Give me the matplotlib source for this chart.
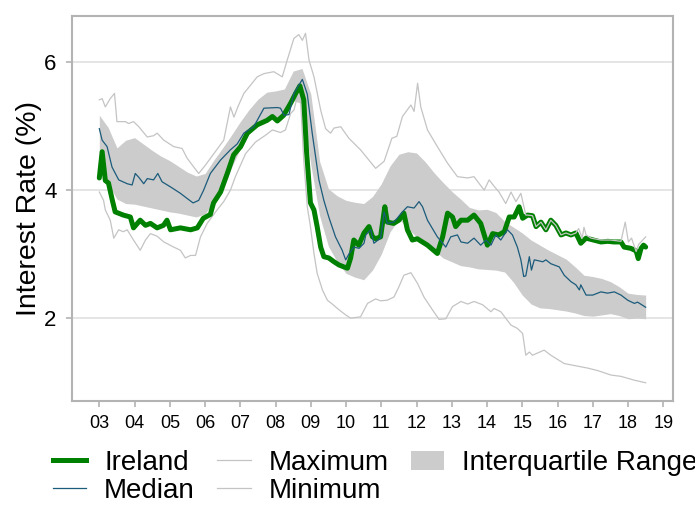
import matplotlib
matplotlib.use("Agg")
import matplotlib.pyplot as plt
from matplotlib.lines import Line2D
from matplotlib.patches import Patch

plt.rcParams["font.family"] = ["Liberation Sans", "DejaVu Sans"]

# interquartile range, quarterly from 2003.0 to 2018.5
iqr_t = [2003 + 0.25 * k for k in range(63)]
q3 = [5.17, 4.98, 4.66, 4.78, 4.82, 4.72, 4.62, 4.53, 4.46, 4.37, 4.28, 4.22,
      4.26, 4.47, 4.66, 4.86, 5.07, 5.26, 5.42, 5.53, 5.55, 5.58, 5.86, 5.90,
      5.50, 4.45, 4.02, 3.91, 3.84, 3.81, 3.79, 3.90, 4.10, 4.38, 4.56, 4.60,
      4.58, 4.44, 4.27, 4.12, 3.98, 3.86, 3.73, 3.69, 3.70, 3.65, 3.51, 3.42,
      3.33, 3.22, 3.14, 3.06, 2.99, 2.92, 2.80, 2.67, 2.65, 2.62, 2.57, 2.49,
      2.39, 2.37, 2.36]
q1 = [4.30, 4.10, 3.86, 3.79, 3.78, 3.75, 3.72, 3.69, 3.66, 3.64, 3.61, 3.58,
      3.63, 3.82, 4.00, 4.35, 4.65, 4.88, 5.04, 5.09, 5.12, 5.15, 5.40, 5.35,
      4.40, 3.60, 3.12, 2.88, 2.70, 2.64, 2.60, 2.75, 3.00, 3.35, 3.55, 3.40,
      3.27, 3.20, 3.06, 2.94, 2.88, 2.82, 2.80, 2.77, 2.76, 2.75, 2.72, 2.56,
      2.36, 2.22, 2.16, 2.15, 2.13, 2.11, 2.08, 2.04, 2.03, 2.05, 2.07, 2.04,
      1.99, 2.00, 1.99]

ireland_t = [2003.00, 2003.08, 2003.17, 2003.26, 2003.37, 2003.45, 2003.68, 2003.88,
             2003.97, 2004.16, 2004.31, 2004.45, 2004.64, 2004.82, 2004.92, 2005.02,
             2005.30, 2005.59, 2005.78, 2005.95, 2006.15, 2006.24, 2006.44, 2006.63,
             2006.81, 2007.01, 2007.20, 2007.48, 2007.76, 2007.91, 2008.05, 2008.23,
             2008.43, 2008.57, 2008.69, 2008.80, 2008.88, 2008.99, 2009.09, 2009.18,
             2009.28, 2009.37, 2009.51, 2009.66, 2009.80, 2009.94, 2010.04, 2010.13,
             2010.22, 2010.36, 2010.51, 2010.65, 2010.75, 2010.84, 2010.98, 2011.10,
             2011.17, 2011.35, 2011.50, 2011.64, 2011.74, 2011.88, 2012.02, 2012.31,
             2012.59, 2012.74, 2012.88, 2013.02, 2013.11, 2013.26, 2013.45, 2013.63,
             2013.82, 2014.01, 2014.16, 2014.33, 2014.49, 2014.63, 2014.77, 2014.91,
             2015.01, 2015.15, 2015.29, 2015.39, 2015.53, 2015.67, 2015.81, 2015.95,
             2016.10, 2016.24, 2016.38, 2016.52, 2016.66, 2016.81, 2016.95, 2017.23,
             2017.43, 2017.60, 2017.80, 2017.89, 2018.08, 2018.23, 2018.29, 2018.37,
             2018.44, 2018.50]
ireland = [4.19, 4.60, 4.15, 4.11, 3.84, 3.66, 3.61, 3.58,
           3.41, 3.53, 3.45, 3.48, 3.41, 3.45, 3.53, 3.38,
           3.41, 3.38, 3.41, 3.56, 3.62, 3.80, 3.97, 4.26,
           4.55, 4.68, 4.89, 5.02, 5.09, 5.15, 5.08, 5.17,
           5.36, 5.51, 5.63, 5.41, 4.60, 3.80, 3.69, 3.43,
           3.11, 2.96, 2.94, 2.88, 2.83, 2.80, 2.78, 2.94,
           3.22, 3.14, 3.33, 3.43, 3.27, 3.24, 3.27, 3.74,
           3.50, 3.48, 3.53, 3.64, 3.38, 3.22, 3.24, 3.14,
           3.01, 3.27, 3.64, 3.58, 3.43, 3.53, 3.53, 3.61,
           3.48, 3.14, 3.32, 3.30, 3.35, 3.58, 3.58, 3.74,
           3.56, 3.61, 3.60, 3.43, 3.50, 3.38, 3.53, 3.45,
           3.30, 3.33, 3.30, 3.33, 3.17, 3.25, 3.23, 3.19,
           3.20, 3.19, 3.19, 3.11, 3.09, 3.05, 2.93, 3.09,
           3.14, 3.11]

median_t = [2003.00, 2003.08, 2003.22, 2003.36, 2003.55, 2003.79, 2003.93, 2004.02,
            2004.12, 2004.26, 2004.36, 2004.54, 2004.66, 2004.78, 2005.02, 2005.30,
            2005.49, 2005.66, 2005.82, 2005.96, 2006.15, 2006.44, 2006.72, 2006.91,
            2007.10, 2007.38, 2007.67, 2008.05, 2008.14, 2008.24, 2008.38, 2008.52,
            2008.76, 2008.90, 2009.04, 2009.23, 2009.37, 2009.51, 2009.70, 2009.89,
            2009.99, 2010.08, 2010.22, 2010.37, 2010.51, 2010.56, 2010.70, 2010.79,
            2010.98, 2011.08, 2011.17, 2011.36, 2011.60, 2011.74, 2011.93, 2012.07,
            2012.17, 2012.31, 2012.59, 2012.83, 2012.97, 2013.16, 2013.26, 2013.45,
            2013.63, 2013.82, 2013.97, 2014.11, 2014.25, 2014.39, 2014.58, 2014.72,
            2014.86, 2014.96, 2015.04, 2015.10, 2015.20, 2015.26, 2015.34, 2015.43,
            2015.58, 2015.67, 2015.81, 2016.05, 2016.19, 2016.38, 2016.52, 2016.62,
            2016.66, 2016.81, 2017.00, 2017.23, 2017.42, 2017.61, 2017.80, 2017.99,
            2018.18, 2018.27, 2018.50]
median = [4.96, 4.78, 4.68, 4.36, 4.16, 4.10, 4.08, 4.26,
          4.20, 4.10, 4.18, 4.16, 4.26, 4.13, 4.05, 3.95,
          3.87, 3.80, 3.84, 4.00, 4.26, 4.47, 4.63, 4.72,
          4.89, 4.99, 5.28, 5.29, 5.28, 5.17, 5.18, 5.51,
          5.73, 5.50, 4.89, 4.16, 3.84, 3.58, 3.27, 3.06,
          2.91, 3.00, 3.11, 3.09, 3.17, 3.30, 3.38, 3.17,
          3.25, 3.66, 3.48, 3.50, 3.66, 3.74, 3.72, 3.82,
          3.74, 3.53, 3.27, 3.11, 3.27, 3.30, 3.19, 3.17,
          3.25, 3.14, 3.22, 3.14, 3.30, 3.22, 3.38, 3.30,
          3.11, 2.91, 2.65, 2.66, 2.96, 2.75, 2.91, 2.90,
          2.88, 2.91, 2.85, 2.80, 2.67, 2.57, 2.52, 2.44,
          2.52, 2.36, 2.36, 2.41, 2.39, 2.41, 2.36, 2.28,
          2.23, 2.25, 2.17]

maximum_t = [2003.00, 2003.08, 2003.17, 2003.31, 2003.43, 2003.50, 2003.74, 2003.83,
             2003.97, 2004.12, 2004.36, 2004.54, 2004.64, 2004.83, 2005.11, 2005.35,
             2005.49, 2005.68, 2005.82, 2006.01, 2006.25, 2006.53, 2006.72, 2006.82,
             2006.93, 2007.10, 2007.48, 2007.67, 2007.95, 2008.19, 2008.33, 2008.52,
             2008.66, 2008.76, 2008.85, 2008.95, 2009.09, 2009.28, 2009.42, 2009.56,
             2009.66, 2009.85, 2010.08, 2010.41, 2010.84, 2011.08, 2011.30, 2011.44,
             2011.60, 2011.84, 2011.93, 2012.03, 2012.12, 2012.31, 2012.59, 2012.88,
             2013.16, 2013.45, 2013.63, 2013.78, 2013.92, 2014.06, 2014.20, 2014.34,
             2014.53, 2014.68, 2014.82, 2014.96, 2015.10, 2015.15, 2015.29, 2015.39,
             2015.53, 2015.67, 2015.81, 2015.95, 2016.10, 2016.24, 2016.38, 2016.52,
             2016.60, 2016.70, 2016.75, 2016.81, 2016.95, 2017.23, 2017.50, 2017.80,
             2017.92, 2018.01, 2018.10, 2018.23, 2018.30, 2018.50]
maximum = [5.41, 5.43, 5.30, 5.43, 5.51, 5.07, 5.07, 5.04,
           5.07, 4.99, 4.83, 4.85, 4.89, 4.78, 4.68, 4.65,
           4.50, 4.36, 4.26, 4.39, 4.57, 4.78, 5.30, 5.14,
           5.30, 5.51, 5.77, 5.82, 5.85, 5.77, 6.03, 6.37,
           6.43, 6.34, 6.45, 6.03, 5.77, 5.25, 4.96, 4.89,
           4.97, 4.99, 4.81, 4.63, 4.34, 4.45, 4.81, 4.84,
           5.15, 5.33, 5.23, 5.67, 5.30, 4.94, 4.68, 4.42,
           4.21, 4.19, 4.21, 4.10, 4.00, 4.16, 4.06, 3.97,
           3.79, 3.97, 3.82, 3.95, 3.61, 3.61, 3.60, 3.43,
           3.50, 3.38, 3.53, 3.45, 3.30, 3.33, 3.30, 3.33,
           3.40, 3.25, 3.42, 3.30, 3.25, 3.22, 3.22, 3.20,
           3.50, 3.19, 3.25, 3.04, 3.15, 3.27]

minimum_t = [2003.00, 2003.12, 2003.17, 2003.31, 2003.41, 2003.55, 2003.68, 2003.79,
             2003.97, 2004.16, 2004.31, 2004.45, 2004.64, 2004.83, 2005.11, 2005.30,
             2005.44, 2005.59, 2005.73, 2005.87, 2006.06, 2006.34, 2006.53, 2006.72,
             2006.86, 2007.15, 2007.43, 2007.72, 2007.91, 2008.14, 2008.28, 2008.43,
             2008.52, 2008.62, 2008.71, 2008.80, 2008.90, 2008.99, 2009.09, 2009.18,
             2009.33, 2009.47, 2009.61, 2009.80, 2009.99, 2010.13, 2010.41, 2010.61,
             2010.84, 2010.98, 2011.17, 2011.36, 2011.50, 2011.64, 2011.84, 2012.03,
             2012.21, 2012.45, 2012.64, 2012.83, 2013.02, 2013.26, 2013.45, 2013.63,
             2013.87, 2014.11, 2014.20, 2014.39, 2014.68, 2014.86, 2015.01, 2015.10,
             2015.20, 2015.29, 2015.62, 2015.81, 2016.19, 2016.66, 2016.85, 2017.14,
             2017.52, 2017.80, 2018.18, 2018.50]
minimum = [3.97, 3.84, 3.69, 3.53, 3.25, 3.38, 3.35, 3.38,
           3.22, 3.06, 3.22, 3.32, 3.28, 3.19, 3.11, 3.06,
           2.94, 2.98, 2.98, 3.27, 3.48, 3.69, 3.82, 4.00,
           4.21, 4.57, 4.75, 4.86, 4.94, 4.90, 4.94, 5.20,
           5.25, 5.46, 5.40, 4.47, 3.74, 3.43, 3.01, 2.70,
           2.44, 2.28, 2.22, 2.13, 2.05, 2.00, 2.02, 2.23,
           2.30, 2.27, 2.28, 2.33, 2.49, 2.67, 2.71, 2.54,
           2.33, 2.13, 1.98, 1.99, 2.18, 2.26, 2.22, 2.26,
           2.21, 2.10, 2.15, 2.10, 1.89, 1.84, 1.76, 1.42,
           1.47, 1.42, 1.50, 1.42, 1.29, 1.24, 1.22, 1.18,
           1.11, 1.09, 1.03, 0.99]

year_ticks = list(range(2003, 2020))
year_labels = [f"{y % 100:02d}" for y in year_ticks]

GREEN = "#008000"
BLUE = "#1B5B7B"
GREY_LINE = "#C4C4C4"
RIBBON = "#CCCCCC"
FRAME = "#B3B3B3"

fig = plt.figure(figsize=(6.95, 5.07), dpi=100)
ax = fig.add_axes([0.1036, 0.2097, 0.8647, 0.7587])

ax.fill_between(iqr_t, q1, q3, color=RIBBON, linewidth=0, zorder=1)
ax.plot(minimum_t, minimum, color=GREY_LINE, lw=0.9, zorder=2)
ax.plot(ireland_t, ireland, color=GREEN, lw=3.6, zorder=3,
        solid_joinstyle="round", solid_capstyle="round")
ax.plot(median_t, median, color=BLUE, lw=0.9, zorder=4)
ax.plot(maximum_t, maximum, color=GREY_LINE, lw=0.9, zorder=5)

ax.set_xlim(2002.225, 2019.275)
ax.set_ylim(0.71, 6.72)
ax.set_xticks(year_ticks)
ax.set_xticklabels(year_labels, fontsize=13)
ax.set_yticks([2, 4, 6])
ax.tick_params(axis="y", labelsize=16, length=4, color=FRAME, width=1.2, pad=7)
ax.tick_params(axis="x", length=4, color=FRAME, width=1.2, pad=6)
ax.grid(axis="y", color="#E3E3E3", lw=1.3, zorder=0)
ax.set_axisbelow(True)
for s in ax.spines.values():
    s.set_color(FRAME)
    s.set_linewidth(1.5)
ax.set_ylabel("Interest Rate (%)", fontsize=20.5, labelpad=2)

# legend runs past the right edge, as in the original figure
handles = [
    Line2D([], [], color=GREEN, lw=3.6),
    Line2D([], [], color=BLUE, lw=0.9),
    Line2D([], [], color=GREY_LINE, lw=0.9),
    Line2D([], [], color=GREY_LINE, lw=0.9),
    Patch(facecolor=RIBBON, edgecolor="none"),
]
labels = ["Ireland", "Median", "Maximum", "Minimum", "Interquartile Range"]
fig.legend(handles, labels, loc="upper left", bbox_to_anchor=(0.076, 0.112),
           ncol=3, frameon=False, fontsize=20, handlelength=1.2,
           handletextpad=0.65, columnspacing=0.8, labelspacing=0.06,
           borderpad=0, borderaxespad=0)

fig.savefig("out.png", dpi=100)
